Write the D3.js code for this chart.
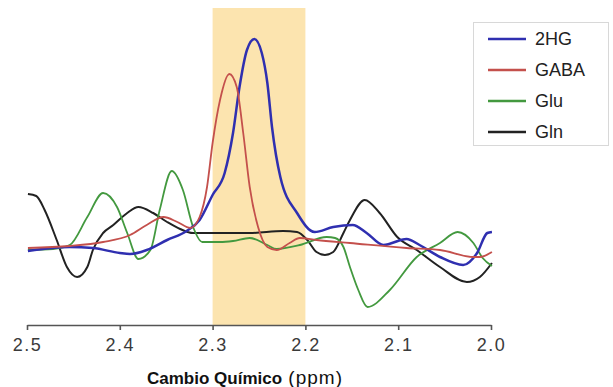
<!DOCTYPE html>
<html>
<head>
<meta charset="utf-8">
<script src="https://cdn.jsdelivr.net/npm/d3@7"></script>
<style>
  html, body { margin: 0; padding: 0; background: #fff; }
  svg { display: block; }
</style>
</head>
<body>
<svg id="chart" width="613" height="387"></svg>
<script>
// ---- Data (chemical shift in ppm, intensity in arbitrary units) ----
const seriesNames = ["2HG", "GABA", "Glu", "Gln"];
const seriesColors = ["#2f2fb0", "#c4504c", "#43993f", "#222222"];

const ppm2HG = [2.499,2.454,2.429,2.400,2.389,2.371,2.349,2.328,2.314,2.300,2.287,2.278,2.271,2.263,2.255,2.247,2.241,2.236,2.227,2.209,2.190,2.170,2.149,2.134,2.116,2.091,2.077,2.055,2.030,2.015,2.004,1.999];
const val2HG = [-0.1,0.3,0.2,-0.3,-0.4,0.0,1.0,1.9,3.0,5.5,7.7,11.7,16.3,20.0,21.1,19.7,16.7,12.3,7.3,3.7,1.8,2.3,2.5,1.7,0.5,1.1,0.5,-0.7,-1.5,-0.3,1.7,1.8];

const ppmGABA = [2.499,2.454,2.418,2.389,2.371,2.353,2.338,2.324,2.314,2.306,2.300,2.292,2.282,2.274,2.267,2.260,2.251,2.241,2.231,2.217,2.206,2.188,2.152,2.091,2.055,2.019,2.012,1.999];
const valGABA = [0.2,0.4,0.8,1.5,2.5,3.3,2.8,2.2,3.3,6.3,10.7,15.0,17.6,16.3,11.7,6.3,2.3,0.3,0.0,0.7,1.2,1.0,0.7,0.2,0.0,-0.7,-0.7,-0.2];

const ppmGlu = [2.499,2.472,2.454,2.435,2.418,2.403,2.392,2.380,2.367,2.357,2.344,2.332,2.321,2.311,2.292,2.278,2.260,2.241,2.231,2.206,2.177,2.168,2.159,2.152,2.143,2.133,2.109,2.080,2.055,2.036,2.019,2.009,1.999];
const valGlu = [0.0,0.1,0.5,3.3,5.7,4.3,1.7,-0.9,0.0,4.0,7.9,6.0,2.3,0.8,0.8,0.9,1.2,0.5,0.1,0.5,1.3,1.2,0.3,-1.7,-4.0,-5.7,-4.0,-0.7,0.7,1.8,0.7,-0.8,-1.6];

const ppmGln = [2.499,2.490,2.481,2.468,2.457,2.446,2.435,2.429,2.418,2.407,2.392,2.380,2.364,2.349,2.335,2.321,2.292,2.260,2.224,2.209,2.198,2.188,2.179,2.170,2.159,2.152,2.136,2.120,2.101,2.080,2.055,2.026,2.012,1.999];
const valGln = [5.6,5.4,4.0,1.0,-1.7,-2.7,-1.7,0.0,1.7,2.5,3.7,4.3,3.7,2.8,2.1,1.7,1.7,1.7,1.9,1.8,1.0,-0.2,-0.5,-0.2,1.7,3.0,5.0,3.7,1.3,0.0,-1.7,-3.2,-2.7,-1.3];

const xTicks = [2.5, 2.4, 2.3, 2.2, 2.1, 2.0];
const bandRange = [2.3, 2.2];
const xTitleBold = "Cambio Químico";
const xTitleUnit = "(ppm)";

// ---- Build ----
const series = [
  {name: seriesNames[0], color: seriesColors[0], x: ppm2HG, y: val2HG, w: 2.5},
  {name: seriesNames[1], color: seriesColors[1], x: ppmGABA, y: valGABA, w: 1.8},
  {name: seriesNames[2], color: seriesColors[2], x: ppmGlu, y: valGlu, w: 1.8},
  {name: seriesNames[3], color: seriesColors[3], x: ppmGln, y: valGln, w: 2.0}
];

const svg = d3.select("#chart");
const x = d3.scaleLinear().domain([2.5, 2.0]).range([27, 491]);
const y = d3.scaleLinear().domain([-7.5, 24.2]).range([325, 8]);

// highlight band
svg.append("rect")
  .attr("x", x(bandRange[0]))
  .attr("y", y(24.2))
  .attr("width", x(bandRange[1]) - x(bandRange[0]))
  .attr("height", y(-7.5) - y(24.2))
  .attr("fill", "#fce4af");

const line = d3.line()
  .x(d => x(d[0]))
  .y(d => y(d[1]))
  .curve(d3.curveMonotoneX);

// draw order: Gln, Glu, 2HG, GABA
[3, 2, 0, 1].forEach(i => {
  const s = series[i];
  const pts = s.x.map((v, k) => [v, s.y[k]]);
  svg.append("path")
    .datum(pts)
    .attr("d", line)
    .attr("fill", "none")
    .attr("stroke", s.color)
    .attr("stroke-width", s.w)
    .attr("stroke-linejoin", "round");
});

// x axis
const axis = d3.axisBottom(x)
  .tickValues(xTicks)
  .tickFormat(d3.format(".1f"))
  .tickSize(5)
  .tickSizeOuter(0)
  .tickPadding(8);
const gx = svg.append("g")
  .attr("transform", "translate(0,325)")
  .call(axis);
gx.select(".domain").attr("stroke", "#555").attr("stroke-width", 1.6);
gx.selectAll(".tick line").attr("stroke", "#555").attr("stroke-width", 1.6);
gx.selectAll(".tick text")
  .attr("fill", "#3a3a3a")
  .style("font-family", "'Liberation Sans', Arial, sans-serif")
  .style("font-size", "18px")
  .style("letter-spacing", "1.5px");

// x title
const title = svg.append("text")
  .attr("x", 245)
  .attr("y", 384)
  .attr("text-anchor", "middle")
  .attr("fill", "#111")
  .style("font-family", "'Liberation Sans', Arial, sans-serif");
title.append("tspan").text(xTitleBold).style("font-weight", "bold").style("font-size", "17px");
title.append("tspan").text("\u00a0" + xTitleUnit).style("font-size", "19px").style("letter-spacing", "1px");

// legend
const lg = svg.append("g");
lg.append("rect")
  .attr("x", 473.5).attr("y", 22.5)
  .attr("width", 135).attr("height", 123)
  .attr("fill", "#fff")
  .attr("stroke", "#d8d8d8")
  .attr("stroke-width", 1);
const legY = [39, 70, 101, 132];
series.forEach((s, i) => {
  lg.append("line")
    .attr("x1", 488).attr("x2", 526)
    .attr("y1", legY[i]).attr("y2", legY[i])
    .attr("stroke", s.color)
    .attr("stroke-width", 2.5);
  lg.append("text")
    .attr("x", 535).attr("y", legY[i])
    .attr("dy", "0.36em")
    .attr("fill", "#222")
    .style("font-family", "'Liberation Sans', Arial, sans-serif")
    .style("font-size", "18px")
    .text(s.name);
});
</script>
</body>
</html>
